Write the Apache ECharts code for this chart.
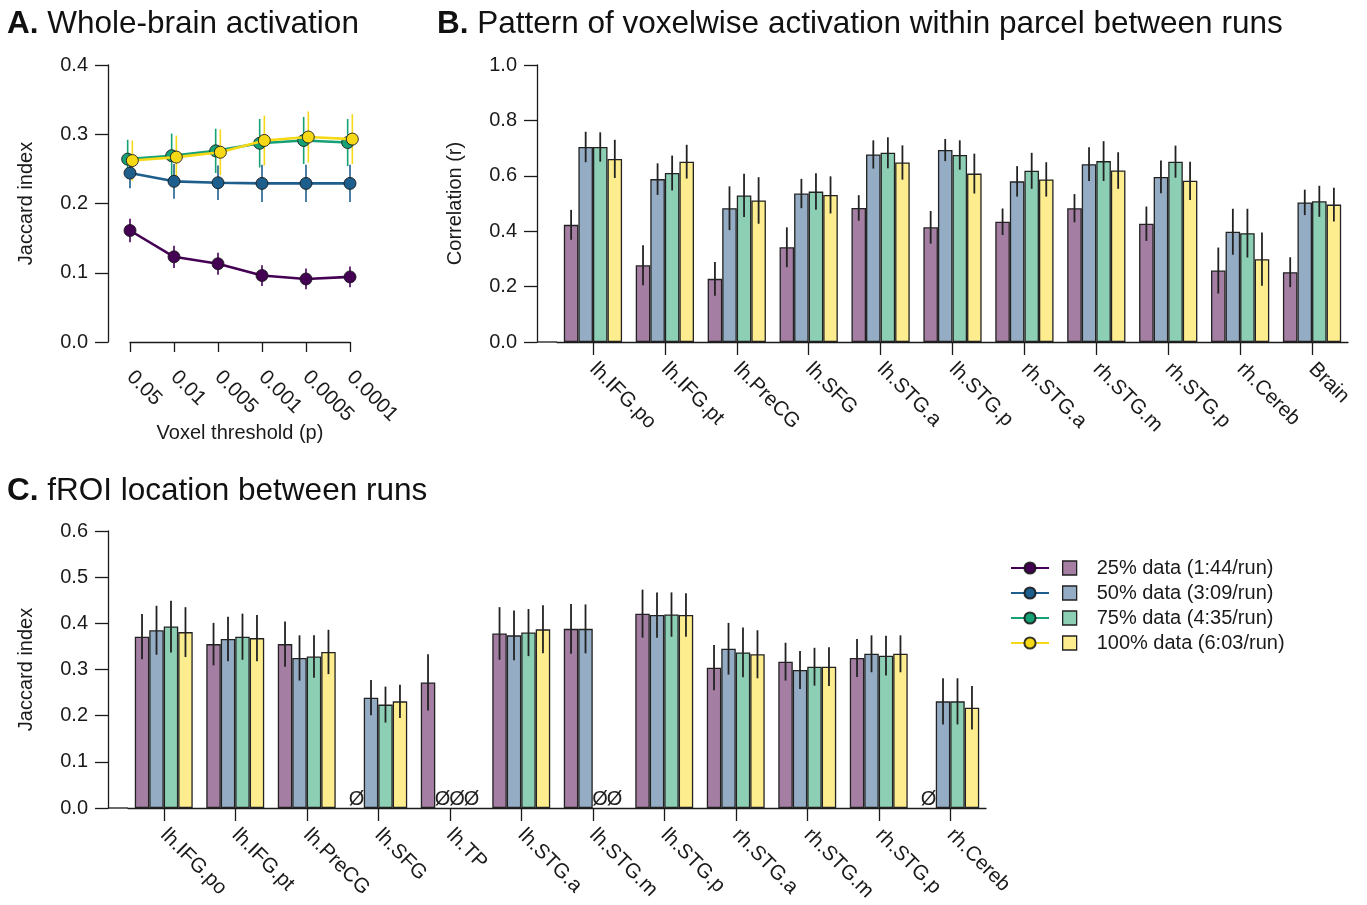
<!DOCTYPE html>
<html>
<head>
<meta charset="utf-8">
<script src="https://cdn.jsdelivr.net/npm/echarts@6/dist/echarts.min.js"></script>
<style>
html,body{margin:0;padding:0;background:#fff;}
#chart{width:1367px;height:905px;}
</style>
</head>
<body>
<div id="chart"></div>
<script>
// ---------- DATA ----------
const groupNames = ['25% data (1:44/run)', '50% data (3:09/run)', '75% data (4:35/run)', '100% data (6:03/run)'];
const thresholds = ['0.05', '0.01', '0.005', '0.001', '0.0005', '0.0001'];

// Panel A: whole-brain Jaccard index (mean, +/- error)
const wb25 = [0.161, 0.123, 0.113, 0.096, 0.091, 0.094];
const wb25err = [0.017, 0.016, 0.016, 0.015, 0.015, 0.015];
const wb50 = [0.244, 0.232, 0.230, 0.229, 0.229, 0.229];
const wb50err = [0.022, 0.025, 0.025, 0.027, 0.027, 0.027];
const wb75 = [0.264, 0.269, 0.276, 0.287, 0.291, 0.288];
const wb75err = [0.028, 0.032, 0.032, 0.035, 0.034, 0.034];
const wb100 = [0.262, 0.267, 0.274, 0.291, 0.296, 0.293];
const wb100err = [0.029, 0.031, 0.033, 0.036, 0.037, 0.036];

// Panel B: correlation of voxelwise activation
const parcelsB = ['lh.IFG.po', 'lh.IFG.pt', 'lh.PreCG', 'lh.SFG', 'lh.STG.a', 'lh.STG.p', 'rh.STG.a', 'rh.STG.m', 'rh.STG.p', 'rh.Cereb', 'Brain'];
const corr25 = [0.423, 0.277, 0.228, 0.342, 0.484, 0.414, 0.434, 0.483, 0.427, 0.258, 0.252];
const corr25err = [0.054, 0.072, 0.061, 0.072, 0.046, 0.059, 0.048, 0.051, 0.062, 0.083, 0.054];
const corr50 = [0.704, 0.588, 0.483, 0.536, 0.677, 0.693, 0.580, 0.642, 0.596, 0.398, 0.504];
const corr50err = [0.055, 0.057, 0.079, 0.053, 0.051, 0.040, 0.055, 0.061, 0.059, 0.083, 0.046];
const corr75 = [0.704, 0.610, 0.529, 0.543, 0.683, 0.675, 0.618, 0.653, 0.651, 0.393, 0.508];
const corr75err = [0.053, 0.063, 0.078, 0.066, 0.056, 0.053, 0.065, 0.072, 0.058, 0.088, 0.056];
const corr100 = [0.661, 0.651, 0.511, 0.531, 0.648, 0.608, 0.587, 0.619, 0.582, 0.299, 0.496];
const corr100err = [0.069, 0.061, 0.084, 0.067, 0.062, 0.072, 0.062, 0.066, 0.069, 0.096, 0.061];

// Panel C: fROI location Jaccard index (null = no fROI, drawn as Ø)
const parcelsC = ['lh.IFG.po', 'lh.IFG.pt', 'lh.PreCG', 'lh.SFG', 'lh.TP', 'lh.STG.a', 'lh.STG.m', 'lh.STG.p', 'rh.STG.a', 'rh.STG.m', 'rh.STG.p', 'rh.Cereb'];
const froi25 = [0.371, 0.355, 0.355, null, 0.272, 0.378, 0.388, 0.421, 0.304, 0.317, 0.325, null];
const froi25err = [0.049, 0.046, 0.049, null, 0.061, 0.057, 0.054, 0.052, 0.049, 0.041, 0.041, null];
const froi50 = [0.385, 0.366, 0.325, 0.239, null, 0.374, 0.388, 0.418, 0.345, 0.299, 0.334, 0.231];
const froi50err = [0.053, 0.048, 0.049, 0.038, null, 0.054, 0.053, 0.049, 0.056, 0.041, 0.040, 0.050];
const froi75 = [0.393, 0.371, 0.328, 0.224, null, 0.380, null, 0.419, 0.337, 0.306, 0.330, 0.231];
const froi75err = [0.056, 0.050, 0.046, 0.039, null, 0.051, null, 0.048, 0.054, 0.041, 0.043, 0.050];
const froi100 = [0.381, 0.368, 0.338, 0.231, null, 0.387, null, 0.418, 0.333, 0.306, 0.334, 0.217];
const froi100err = [0.054, 0.050, 0.048, 0.036, null, 0.052, null, 0.047, 0.052, 0.042, 0.040, 0.047];

const yTicksA = [0, 0.1, 0.2, 0.3, 0.4];
const yTicksB = [0, 0.2, 0.4, 0.6, 0.8, 1.0];
const yTicksC = [0, 0.1, 0.2, 0.3, 0.4, 0.5, 0.6];

// ---------- STYLE / LAYOUT ----------
const FONT = '"Liberation Sans", Arial, Helvetica, sans-serif';
const INK = '#1a1a1a';
const lineColors = ['#440154', '#1d5e8c', '#16a075', '#f5d816'];
const barColors = ['#a47ea3', '#94adc5', '#8dcfb5', '#feed8e'];
const xShiftA = [0, 0, -0.053, 0.053];
const LA = {left: 130, top: 65, width: 220, height: 277, yOff: 22};
const LB = {left: 557, top: 65, width: 791, height: 277, yOff: 20};
const LC = {left: 128, top: 531, width: 858, height: 277, yOff: 20};
const CAT_GAP = 0.19;

const wbMeans = [wb25, wb50, wb75, wb100];
const wbErrs = [wb25err, wb50err, wb75err, wb100err];
const corrMeans = [corr25, corr50, corr75, corr100];
const corrErrs = [corr25err, corr50err, corr75err, corr100err];
const froiMeans = [froi25, froi50, froi75, froi100];
const froiErrs = [froi25err, froi50err, froi75err, froi100err];

function yAxisCfg(idx, L, max, name) {
  return {
    type: 'value', gridIndex: idx, min: 0, max: max, interval: max === 1 ? 0.2 : 0.1,
    offset: L.yOff, name: name, nameLocation: 'middle', nameGap: 72, nameRotate: 90,
    nameMoveOverlap: false,
    nameTextStyle: {fontSize: 20, fontFamily: FONT, color: INK},
    axisLine: {show: true, onZero: false, lineStyle: {color: INK, width: 1.3}},
    axisTick: {show: true, length: 13, lineStyle: {color: INK, width: 1.3}},
    axisLabel: {fontSize: 20, fontFamily: FONT, color: INK, margin: 20, formatter: v => v.toFixed(1)},
    splitLine: {show: false}
  };
}
function catAxisCfg(idx, cats) {
  return {
    type: 'category', gridIndex: idx, data: cats, boundaryGap: true,
    axisLine: {show: true, onZero: false, lineStyle: {color: INK, width: 1.3}},
    axisTick: {show: true, alignWithLabel: true, length: 13, lineStyle: {color: INK, width: 1.3}},
    axisLabel: {interval: 0, rotate: -45, align: 'left', verticalAlign: 'middle', margin: 24,
      fontSize: 20.5, fontFamily: FONT, color: INK},
    splitLine: {show: false}
  };
}

const series = [];
// Panel A error bars + lines
wbMeans.forEach((m, k) => {
  series.push({
    type: 'custom', xAxisIndex: 0, yAxisIndex: 0, z: 2, clip: false, silent: true,
    data: m.map((v, i) => [i + xShiftA[k], v, wbErrs[k][i]]),
    encode: {x: 0, y: 1},
    renderItem: (params, api) => {
      const x = api.value(0), v = api.value(1), e = api.value(2);
      const p1 = api.coord([x, v - e]), p2 = api.coord([x, v + e]);
      return {type: 'line', shape: {x1: p1[0], y1: p1[1], x2: p2[0], y2: p2[1]},
        style: {stroke: lineColors[k], lineWidth: 1.6}};
    }
  });
});
wbMeans.forEach((m, k) => {
  series.push({
    type: 'line', name: 'line ' + groupNames[k], xAxisIndex: 0, yAxisIndex: 0, z: 3 + k, clip: false,
    data: m.map((v, i) => [i + xShiftA[k], v]),
    symbol: 'circle', symbolSize: 12, showSymbol: true,
    lineStyle: {color: lineColors[k], width: 2.6},
    itemStyle: {color: lineColors[k], borderColor: 'rgba(20,20,20,0.85)', borderWidth: 1}
  });
});

function addBarPanel(axisIdx, means, errs) {
  means.forEach((m, k) => {
    series.push({
      type: 'bar', name: groupNames[k], xAxisIndex: axisIdx, yAxisIndex: axisIdx,
      data: m, barGap: '0%', barCategoryGap: (CAT_GAP * 100) + '%',
      itemStyle: {color: barColors[k], borderColor: '#222', borderWidth: 1.3},
      z: 2
    });
  });
  const eData = [];
  means.forEach((m, k) => m.forEach((v, i) => {
    eData.push([i, k, v == null ? 0 : v, errs[k][i] == null ? 0 : errs[k][i], v == null ? 1 : 0]);
  }));
  series.push({
    type: 'custom', xAxisIndex: axisIdx, yAxisIndex: axisIdx, z: 5, silent: true, clip: false,
    data: eData, encode: {x: 0, y: 2},
    renderItem: (params, api) => {
      const cat = api.value(0), k = api.value(1), v = api.value(2), e = api.value(3), miss = api.value(4);
      const base = api.coord([cat, 0]);
      const band = api.size([1, 0])[0];
      const bw = band * (1 - CAT_GAP) / 4;
      const x = base[0] + (k - 1.5) * bw;
      if (miss) {
        return {type: 'text', style: {x: x, y: base[1] + 1, text: 'Ø', fontSize: 20, fontFamily: FONT,
          fill: '#222', align: 'center', verticalAlign: 'bottom'}};
      }
      const lo = api.coord([cat, v - e]), hi = api.coord([cat, v + e]);
      return {type: 'line', shape: {x1: x, y1: lo[1], x2: x, y2: hi[1]},
        style: {stroke: '#222', lineWidth: 1.8}};
    }
  });
}
addBarPanel(1, corrMeans, corrErrs);
addBarPanel(2, froiMeans, froiErrs);

const titleStyle = {fontSize: 31.5, fontFamily: FONT, color: '#111', fontWeight: 'normal',
  rich: {b: {fontSize: 31.5, fontFamily: FONT, color: '#111', fontWeight: 'bold'}}};

const option = {
  animation: false,
  backgroundColor: '#fff',
  title: [
    {text: '{b|A.} Whole-brain activation', left: 7, top: 8, padding: 0, textStyle: titleStyle},
    {text: '{b|B.} Pattern of voxelwise activation within parcel between runs', left: 437, top: 8, padding: 0, textStyle: titleStyle},
    {text: '{b|C.} fROI location between runs', left: 7, top: 475, padding: 0, textStyle: titleStyle}
  ],
  legend: [
    {orient: 'vertical', left: 1010, top: 557, padding: 0, itemGap: 3, itemWidth: 38, itemHeight: 14,
      data: groupNames.map(n => 'line ' + n), formatter: () => ' ',
      textStyle: {fontSize: 20, lineHeight: 22, fontFamily: FONT}, selectedMode: false},
    {orient: 'vertical', left: 1062, top: 557, padding: 0, itemGap: 3, itemWidth: 14, itemHeight: 14,
      data: groupNames, icon: 'rect',
      itemStyle: {borderColor: '#222', borderWidth: 1.3},
      textStyle: {fontSize: 20, lineHeight: 22, fontFamily: FONT, color: INK, padding: [0, 0, 0, 15]},
      selectedMode: false}
  ],
  grid: [
    {left: LA.left, top: LA.top, width: LA.width, height: LA.height, outerBoundsMode: 'none'},
    {left: LB.left, top: LB.top, width: LB.width, height: LB.height, outerBoundsMode: 'none'},
    {left: LC.left, top: LC.top, width: LC.width, height: LC.height, outerBoundsMode: 'none'}
  ],
  xAxis: [
    {
      type: 'value', gridIndex: 0, min: 0, max: thresholds.length - 1, interval: 1,
      name: 'Voxel threshold (p)', nameLocation: 'middle', nameGap: 81, nameMoveOverlap: false,
      nameTextStyle: {fontSize: 20, fontFamily: FONT, color: INK},
      axisLine: {show: true, onZero: false, lineStyle: {color: INK, width: 1.3}},
      axisTick: {show: true, length: 10, lineStyle: {color: INK, width: 1.3}},
      axisLabel: {rotate: -45, align: 'left', verticalAlign: 'middle', margin: 32, fontSize: 20.5,
        fontFamily: FONT, color: INK, showMinLabel: true, showMaxLabel: true,
        formatter: v => thresholds[Math.round(v)]},
      splitLine: {show: false}
    },
    catAxisCfg(1, parcelsB),
    catAxisCfg(2, parcelsC)
  ],
  yAxis: [
    yAxisCfg(0, LA, yTicksA[yTicksA.length - 1], 'Jaccard index'),
    yAxisCfg(1, LB, yTicksB[yTicksB.length - 1], 'Correlation (r)'),
    yAxisCfg(2, LC, yTicksC[yTicksC.length - 1], 'Jaccard index')
  ],
  graphic: [
    {type: 'line', silent: true, shape: {x1: LB.left - LB.yOff, y1: LB.top + LB.height, x2: LB.left, y2: LB.top + LB.height},
      style: {stroke: INK, lineWidth: 1.3}},
    {type: 'line', silent: true, shape: {x1: LC.left - LC.yOff, y1: LC.top + LC.height, x2: LC.left, y2: LC.top + LC.height},
      style: {stroke: INK, lineWidth: 1.3}}
  ],
  series: series
};

const chart = echarts.init(document.getElementById('chart'), null, {renderer: 'canvas'});
chart.setOption(option);
</script>
</body>
</html>
